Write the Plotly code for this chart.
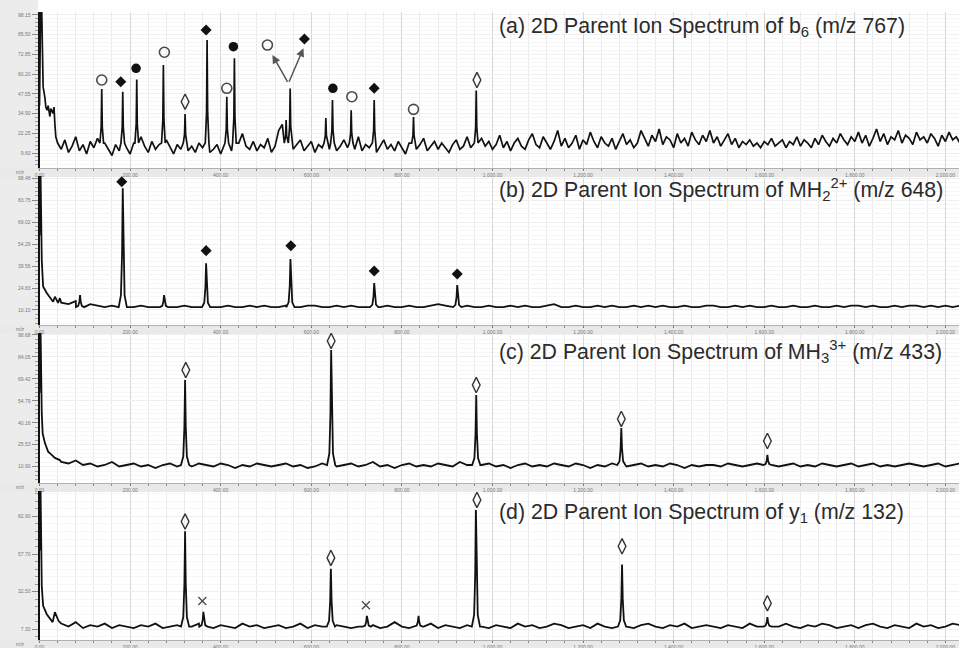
import numpy as np
import plotly.graph_objects as go

# ---------------- data (m/z, relative intensity 0-100 of each panel) ----------------
# panel (a) b6 m/z 767
a_decay_mz = [0, 3, 5, 8, 12, 14, 17, 19, 23, 25, 30, 32, 34, 36]
a_decay_int = [40, 115, 100, 52, 45, 39, 37, 40, 33, 38, 35, 39, 28, 20]
a_noise_start, a_noise_step = 40, 8
a_noise = [
    16, 12, 18, 10, 14, 20, 11, 15, 9, 17,
    13, 19, 10, 16, 12, 8, 15, 11, 18, 13,
    9, 16, 12, 20, 14, 10, 17, 12, 15, 11,
    18, 13, 9, 15, 12, 19, 11, 14, 10, 16,
    13, 17, 10, 12, 15, 9, 14, 18, 11, 13,
    16, 22, 14, 12, 17, 11, 15, 13, 19, 10,
    14, 24, 28, 20, 16, 12, 15, 18, 11, 14,
    17, 10, 15, 13, 19, 12, 16, 11, 14, 18,
    13, 16, 12, 20, 11, 15, 13, 17, 10, 14,
    18, 12, 15, 11, 17, 13, 9, 16, 14, 12,
    15, 19, 11, 14, 17, 12, 16, 13, 10, 15,
    18, 12, 14, 20, 13, 16, 11, 19, 14, 17,
    12, 15, 21, 13, 17, 11, 16, 19, 14, 12,
    18, 22, 15, 13, 20, 16, 12, 17, 24, 14,
    19, 13, 16, 21, 12, 18, 15, 23, 17, 13,
    20, 16, 14, 19, 12, 17, 22, 15, 18, 13,
    16, 24, 19, 14, 21, 17, 25, 15, 20, 18,
    13, 22, 16, 19, 14, 23, 18, 15, 21, 17,
    24, 16, 20, 14, 18, 22, 15, 19, 13, 17,
    15, 18, 14, 16, 13, 17, 15, 19, 14, 16,
    18, 13, 17, 15, 20, 14, 18, 16, 13, 19,
    15, 21, 17, 14, 19, 16, 22, 18, 15, 20,
    17, 23, 16, 21, 14, 19, 25, 17, 22, 15,
    20, 18, 24, 16, 21, 19, 15, 23, 18, 20,
    16, 22, 19, 14, 21, 17, 23, 18, 20, 16,
]
a_peak_mz = [137.4, 183.8, 214.7, 273.5, 321.4, 370.0, 413.5, 430.3, 544.5, 553.4,
             632.2, 646.8, 688.1, 738.9, 825.7, 964.2]
a_peak_int = [50.6, 48.9, 56.8, 66.0, 34.6, 82.0, 45.7, 70.3, 30.8, 51.0,
              32.0, 43.6, 37.0, 43.6, 32.6, 49.6]
a_mark_mz = [137.4, 179.4, 213.2, 275.7, 321.4, 367.8, 413.5, 428.1, 503.2, 584.9,
             647.7, 689.6, 738.9, 825.7, 965.8]
a_mark_int = [56.4, 55.3, 63.9, 74.2, 42.5, 88.5, 51.1, 77.8, 78.8, 82.7,
              51.1, 45.7, 51.1, 37.6, 56.4]
a_mark_kind = ["o", "D", "c", "o", "d", "D", "o", "c", "o", "D", "c", "o", "D", "o", "d"]
a_arrow_tail = (549.6, 54.3)
a_arrow_head_mz = [514.2, 582.7]
a_arrow_head_int = [72.4, 76.7]

# panel (b) MH2 2+ m/z 648
b_decay_mz = [0, 2, 5, 8, 16, 23, 30, 34, 41, 45]
b_decay_int = [60, 110, 43.6, 25.8, 21.5, 18.1, 15.6, 19.0, 14.8, 18.0]
b_noise_start, b_noise_step = 48, 16
b_noise = [
    15, 14, 16, 13, 14, 13, 12, 13, 12, 13,
    12, 13, 12, 12, 13, 12, 12, 13, 12, 12,
    13, 12, 12, 13, 12, 12, 13, 12, 13, 12,
    12, 13, 12, 12, 13, 13, 12, 12, 13, 12,
    13, 12, 12, 13, 12, 13, 12, 12, 13, 12,
    12, 13, 14, 13, 12, 12, 13, 12, 12, 13,
    12, 12, 13, 12, 13, 12, 12, 13, 14, 12,
    12, 13, 12, 12, 13, 12, 13, 12, 12, 13,
    12, 13, 12, 13, 12, 12, 13, 12, 12, 13,
    13, 12, 12, 13, 12, 13, 12, 12, 13, 12,
    12, 13, 12, 12, 13, 12, 12, 13, 12, 13,
    13, 12, 13, 12, 12, 13, 12, 13, 13, 12,
    13, 12, 13, 12, 13, 13,
]
b_peak_mz = [89.5, 183.8, 275.0, 367.8, 554.0, 738.9, 922.2]
b_peak_int = [20.1, 91.7, 20.1, 41.4, 44.3, 28.2, 26.8]
b_mark_mz = [181.6, 367.8, 554.9, 738.9, 922.2]
b_mark_int = [96.2, 49.9, 53.2, 36.2, 34.2]
b_mark_kind = ["D", "D", "D", "D", "D"]

# panel (c) MH3 3+ m/z 433
c_decay_mz = [0, 2, 5, 7, 12, 19, 27, 34, 45]
c_decay_int = [60, 110, 46.4, 33.0, 26.6, 20.9, 18.7, 16.7, 15.3]
c_noise_start, c_noise_step = 48, 16
c_noise = [
    14, 13, 15, 12, 13, 11, 12, 14, 11, 12,
    13, 11, 12, 10, 12, 13, 11, 12, 11, 13,
    12, 11, 13, 12, 10, 12, 11, 13, 12, 11,
    12, 13, 11, 12, 10, 11, 13, 12, 11, 12,
    13, 11, 12, 14, 11, 12, 10, 12, 13, 11,
    12, 11, 13, 12, 11, 14, 12, 11, 12, 13,
    11, 12, 10, 12, 13, 11, 12, 11, 13, 12,
    11, 13, 12, 10, 12, 11, 13, 12, 11, 12,
    13, 11, 12, 11, 13, 12, 10, 12, 11, 12,
    12, 11, 13, 12, 11, 12, 13, 11, 12, 11,
    12, 13, 11, 12, 11, 13, 12, 11, 12, 13,
    11, 12, 13, 11, 12, 11, 12, 13, 12, 11,
    12, 13, 11, 12, 13, 12,
]
c_peak_mz = [321.4, 643.9, 964.2, 1284.5, 1607.0]
c_peak_int = [68.7, 88.7, 58.7, 36.7, 18.7]
c_mark_mz = [323.0, 643.9, 964.2, 1284.5, 1607.0]
c_mark_int = [75.3, 94.7, 65.3, 42.7, 28.0]
c_mark_kind = ["d", "d", "d", "d", "d"]

# panel (d) y1 m/z 132
d_decay_mz = [0, 2, 5, 8, 16, 23, 29, 34, 42]
d_decay_int = [60, 110, 36.2, 22.9, 17.3, 14.0, 12.0, 18.7, 12.9]
d_noise_start, d_noise_step = 48, 16
d_noise = [
    11, 9, 12, 8, 10, 9, 11, 8, 10, 9,
    8, 10, 9, 11, 8, 9, 10, 8, 9, 11,
    9, 8, 10, 9, 8, 11, 9, 10, 8, 9,
    10, 8, 9, 11, 8, 10, 9, 8, 10, 9,
    8, 9, 11, 10, 8, 9, 12, 9, 8, 10,
    9, 11, 8, 10, 9, 8, 10, 11, 9, 8,
    10, 9, 8, 11, 9, 10, 8, 9, 11, 10,
    8, 9, 10, 8, 11, 9, 8, 10, 9, 8,
    10, 11, 9, 8, 10, 9, 11, 8, 9, 10,
    9, 8, 10, 9, 8, 11, 9, 10, 8, 9,
    11, 9, 8, 10, 9, 11, 10, 8, 9, 10,
    8, 10, 11, 9, 8, 10, 9, 8, 11, 9,
    10, 8, 9, 11, 10, 9,
]
d_peak_mz = [321.4, 361.8, 643.3, 722.8, 836.8, 963.5, 1286.1, 1607.0]
d_peak_int = [72.9, 18.9, 47.8, 16.2, 16.2, 87.3, 50.7, 15.3]
d_mark_mz = [321.4, 359.6, 643.3, 720.6, 965.8, 1286.1, 1607.0]
d_mark_int = [79.5, 26.2, 55.1, 23.3, 94.0, 62.9, 24.7]
d_mark_kind = ["d", "x", "d", "x", "d", "d", "d"]

titles = [
    "(a) 2D Parent Ion Spectrum of b<sub>6</sub> (m/z 767)",
    "(b) 2D Parent Ion Spectrum of MH<sub>2</sub><sup>2+</sup> (m/z 648)",
    "(c) 2D Parent Ion Spectrum of MH<sub>3</sub><sup>3+</sup> (m/z 433)",
    "(d) 2D Parent Ion Spectrum of y<sub>1</sub> (m/z 132)",
]

# ---------------- layout constants ----------------
W, H = 959, 648
X_LEFT_PX = 39.5
MZ_RANGE = [0, 2030]
panels_px = [(12, 168), (176, 325), (333, 483), (491, 640)]   # top, bottom in px
ytick0 = [9.6, 10.1, 10.9, 7.3]
ydtick = [12.65, 14.73, 14.63, 25.2]
title_y_px = [27, 189, 351, 513]


def spectrum(decay_mz, decay_int, n_start, n_step, noise, pk_mz, pk_int, offs, fracs):
    nm = n_start + n_step * np.arange(len(noise))
    nv = np.asarray(noise, float)
    base = float(np.median(nv))
    halfw = max(abs(o) for o in offs)
    mask = np.ones(len(nm), bool)
    for p in pk_mz:
        mask &= np.abs(nm - p) > halfw
    xs = list(decay_mz) + list(nm[mask])
    ys = list(decay_int) + list(nv[mask])
    for p, h in zip(pk_mz, pk_int):
        for o, f in zip(offs, fracs):
            xs.append(p + o)
            ys.append(base + f * (h - base))
    order = np.argsort(xs, kind="stable")
    return np.asarray(xs)[order], np.asarray(ys)[order]


narrow = ([-4, -1.2, 0, 1.2, 4], [0, 0.3, 1, 0.3, 0])
wide = ([-9, -4, -1.5, 0, 1.5, 4, 9], [0, 0.1, 0.45, 1, 0.45, 0.1, 0])

panel_data = [
    (a_decay_mz, a_decay_int, a_noise_start, a_noise_step, a_noise, a_peak_mz, a_peak_int, narrow,
     a_mark_mz, a_mark_int, a_mark_kind, 1.7),
    (b_decay_mz, b_decay_int, b_noise_start, b_noise_step, b_noise, b_peak_mz, b_peak_int, wide,
     b_mark_mz, b_mark_int, b_mark_kind, 1.8),
    (c_decay_mz, c_decay_int, c_noise_start, c_noise_step, c_noise, c_peak_mz, c_peak_int, wide,
     c_mark_mz, c_mark_int, c_mark_kind, 1.8),
    (d_decay_mz, d_decay_int, d_noise_start, d_noise_step, d_noise, d_peak_mz, d_peak_int, wide,
     d_mark_mz, d_mark_int, d_mark_kind, 1.8),
]

mark_style = {
    "o": dict(symbol="circle-open", size=10, color="#4a4a4a", line=dict(width=1.6, color="#4a4a4a")),
    "D": dict(symbol="diamond", size=8.5, color="#111111", line=dict(width=0)),
    "c": dict(symbol="circle", size=9.5, color="#111111", line=dict(width=0)),
    "d": dict(symbol="diamond-tall-open", size=11, color="#333333", line=dict(width=1.4, color="#333333")),
    "x": dict(symbol="x-thin-open", size=8, color="#444444", line=dict(width=1.2, color="#444444")),
}

fig = go.Figure()
layout = dict(
    width=W, height=H, margin=dict(l=0, r=0, t=0, b=0),
    paper_bgcolor="white", plot_bgcolor="white", showlegend=False,
    font=dict(family="Liberation Sans, Arial, sans-serif"),
)
shapes = [dict(type="rect", xref="paper", yref="paper", x0=0, x1=38 / W, y0=0, y1=1,
               fillcolor="#ececec", line=dict(width=0), layer="below")]
annotations = []

for i, (dm, di, ns, nst, nz, pm, pi, shape, mm, mi, mk, lw) in enumerate(panel_data):
    xa = "x" if i == 0 else f"x{i+1}"
    ya = "y" if i == 0 else f"y{i+1}"
    xs, ys = spectrum(dm, di, ns, nst, nz, pm, pi, shape[0], shape[1])
    fig.add_trace(go.Scatter(x=xs, y=ys, mode="lines", line=dict(color="#111111", width=lw),
                             xaxis=xa, yaxis=ya, hoverinfo="skip"))
    for kind in ["o", "D", "c", "d", "x"]:
        sel = [j for j, k in enumerate(mk) if k == kind]
        if not sel:
            continue
        st = mark_style[kind]
        fig.add_trace(go.Scatter(
            x=[mm[j] for j in sel], y=[mi[j] for j in sel], mode="markers",
            marker=dict(symbol=st["symbol"], size=st["size"], color=st["color"], line=st["line"]),
            xaxis=xa, yaxis=ya, cliponaxis=False, hoverinfo="skip"))

    top, bot = panels_px[i]
    dom = [1 - bot / H, 1 - top / H]
    xkey = "xaxis" if i == 0 else f"xaxis{i+1}"
    ykey = "yaxis" if i == 0 else f"yaxis{i+1}"
    layout[xkey] = dict(
        domain=[X_LEFT_PX / W, 1], range=MZ_RANGE, anchor=ya,
        showgrid=True, gridcolor="#d6d6d6", gridwidth=1,
        tickmode="linear", tick0=0, dtick=200, ticks="outside", ticklen=2, tickcolor="#777",
        tickfont=dict(size=5, color="#777"), tickformat=",.2f",
        minor=dict(dtick=40, tick0=0, showgrid=True, gridcolor="#e9e9e9", ticks="outside",
                   ticklen=2, tickcolor="#888"),
        showline=True, linecolor="#b0b0b0", linewidth=1, zeroline=False, automargin=False,
    )
    layout[ykey] = dict(
        domain=dom, range=[0, 100], anchor=xa,
        showgrid=True, gridcolor="#efefef",
        tickmode="linear", tick0=ytick0[i], dtick=ydtick[i], ticks="outside", ticklen=6,
        tickcolor="#8a8a8a", tickfont=dict(size=5, color="#777"), tickformat=".2f",
        minor=dict(dtick=ydtick[i] / 5, tick0=ytick0[i], showgrid=True, gridcolor="#f6f6f6",
                   ticks="outside", ticklen=3, tickcolor="#9a9a9a"),
        showline=True, linecolor="#111111", linewidth=2, zeroline=False, automargin=False,
    )
    # grey axis strip under each panel
    shapes.append(dict(type="rect", xref="paper", yref="paper", x0=0, x1=1,
                       y0=max(0, 1 - (bot + 9) / H), y1=1 - bot / H,
                       fillcolor="#e9e9e9", line=dict(width=0), layer="below"))
    annotations.append(dict(text="m/z", xref="paper", yref="paper", x=20 / W, y=1 - (bot + 4) / H,
                            showarrow=False, font=dict(size=5, color="#777"),
                            xanchor="center", yanchor="middle"))
    annotations.append(dict(text=titles[i], xref="paper", yref="paper", x=497 / W,
                            y=1 - title_y_px[i] / H, xanchor="left", yanchor="middle",
                            showarrow=False, font=dict(size=21.3, color="#2b2b2b",
                                                       family="Liberation Sans, Arial, sans-serif")))

for hx, hy in zip(a_arrow_head_mz, a_arrow_head_int):
    annotations.append(dict(x=hx, y=hy, ax=a_arrow_tail[0], ay=a_arrow_tail[1],
                            xref="x", yref="y", axref="x", ayref="y", text="",
                            showarrow=True, arrowhead=2, arrowsize=1.1, arrowwidth=1.5,
                            arrowcolor="#555555"))

layout["shapes"] = shapes
layout["annotations"] = annotations
fig.update_layout(**layout)
fig.write_html("out.html", config={"displayModeBar": False},
               post_script="document.body.style.margin='0';document.body.style.padding='0';")
